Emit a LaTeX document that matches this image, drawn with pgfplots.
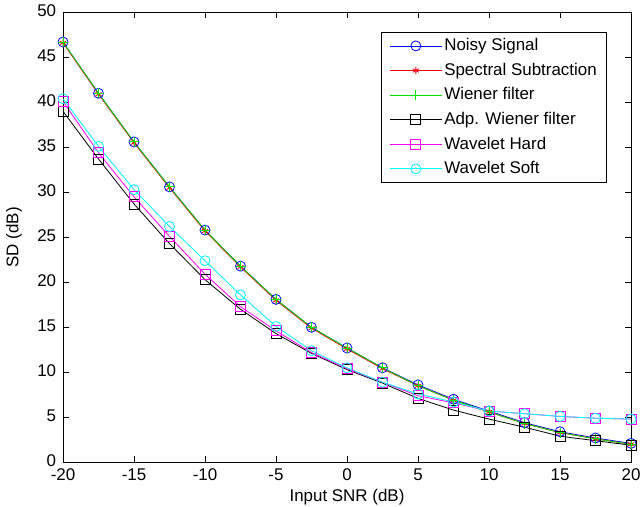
\documentclass[border=0pt]{standalone}
\usepackage{fontspec}
\setmainfont{Liberation Sans}
\usepackage{pgfplots}
\pgfplotsset{compat=1.18}
\definecolor{mblue}{rgb}{0,0,1}
\definecolor{mred}{rgb}{1,0,0}
\definecolor{mgreen}{rgb}{0,0.9,0}
\definecolor{mmag}{rgb}{1,0,1}
\definecolor{mcyan}{rgb}{0,1,1}

% values
\pgfplotstableread{
x     noisy spec  wien  adp   hard  soft
-20   46.7  46.6  46.7  39.0  40.1  40.4
-17.5 41.0  40.9  41.0  33.7  34.4  35.1
-15   35.6  35.5  35.6  28.7  29.5  30.3
-12.5 30.6  30.5  30.6  24.3  25.1  26.2
-10   25.8  25.7  25.8  20.3  20.9  22.4
-7.5  21.8  21.7  21.8  17.0  17.3  18.6
-5    18.1  18.0  18.1  14.3  14.6  15.1
-2.5  15.0  14.9  15.0  12.1  12.2  12.4
0     12.7  12.6  12.7  10.3  10.4  10.5
2.5   10.5  10.4  10.5   8.8   8.9   8.9
5      8.6   8.5   8.5   7.1   7.4   7.6
7.5    7.0   6.9   6.9   5.8   6.6   6.7
10     5.7   5.6   5.6   4.8   5.7   5.7
12.5   4.4   4.3   4.3   3.9   5.4   5.4
15     3.4   3.3   3.3   2.9   5.1   5.1
17.5   2.7   2.6   2.6   2.4   4.9   4.9
20     2.1   2.0   2.0   1.9   4.8   4.8
}\sdtab

\begin{document}
\fontsize{17}{20}\selectfont
\begin{tikzpicture}
\useasboundingbox (0,0) rectangle (641bp,507bp);
\begin{axis}[
  at={(63bp,44.7bp)}, anchor=south west,
  scale only axis, width=568bp, height=450bp,
  xmin=-20, xmax=20, ymin=0, ymax=50,
  xtick={-20,-15,...,20}, ytick={0,5,...,50},
  tick align=inside, major tick length=6bp,
  tick style={black, line width=0.8bp},
  axis line style={line width=0.8bp},
  /pgf/number format/assume math mode=true,
  ticklabel style={font=\fontsize{17}{20}\selectfont},
  yticklabel style={xshift=-1bp, yshift=2bp},
  xticklabel style={yshift=-1bp},
  xlabel={Input SNR (dB)}, ylabel={SD (dB)},
  xlabel style={font=\fontsize{17}{20}\selectfont, yshift=3bp},
  ylabel style={font=\fontsize{17}{20}\selectfont, yshift=4bp},
  legend style={at={(0.56,0.956)}, anchor=north west, draw=black,
    line width=0.8bp, fill=white, font=\fontsize{17}{20}\selectfont,
    row sep=5.8bp, inner xsep=8bp, inner ysep=4bp},
  legend cell align=left,
  legend image code/.code={\draw[mark repeat=2, mark phase=2]
    plot coordinates {(0bp,0bp) (26bp,0bp) (52bp,0bp)};},
  every axis plot/.append style={line width=0.8bp, mark options={solid}},
]
\addplot[mblue, mark=o, mark size=5bp] table[x=x, y=noisy] {\sdtab};
\addlegendentry{Noisy Signal}
\addplot[mred, mark=asterisk, mark size=3.5bp] table[x=x, y=spec] {\sdtab};
\addlegendentry{Spectral Subtraction}
\addplot[mgreen, mark=+, mark size=5bp] table[x=x, y=wien] {\sdtab};
\addlegendentry{Wiener filter}
\addplot[black, mark=square, mark size=5bp] table[x=x, y=adp] {\sdtab};
\addlegendentry{Adp. Wiener filter}
\addplot[mmag, mark=square, mark size=5bp] table[x=x, y=hard] {\sdtab};
\addlegendentry{Wavelet Hard}
\addplot[mcyan, mark=o, mark size=5bp] table[x=x, y=soft] {\sdtab};
\addlegendentry{Wavelet Soft}
\end{axis}
\end{tikzpicture}
\end{document}
